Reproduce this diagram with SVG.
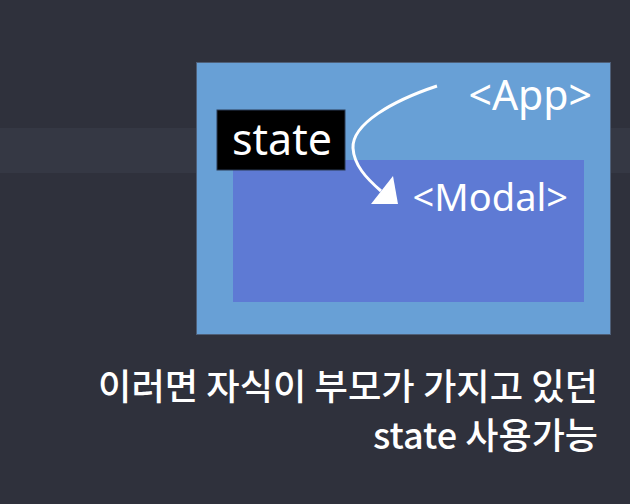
<svg xmlns="http://www.w3.org/2000/svg" width="630" height="504" viewBox="0 0 630 504">
<style>
.lbl{font-family:"Noto Sans","Noto Sans CJK KR",sans-serif;fill:#ffffff}
.cap{font-family:"Noto Sans CJK KR","Noto Sans",sans-serif;fill:#ffffff;font-size:36px;font-weight:500}
</style>
<rect width="630" height="504" fill="#2f313c"/>
<rect x="0" y="128" width="630" height="45" fill="#353844"/>
<g id="app">
<rect x="196.5" y="62.5" width="414" height="272" fill="#68a0d6" stroke="#4e5f78" stroke-width="1"/>
<text class="lbl" x="592" y="110" font-size="41" text-anchor="end">&lt;App&gt;</text>
</g>
<g id="modal">
<rect x="233" y="160" width="351" height="142" fill="#5e7ad4"/>
<text class="lbl" x="568" y="211" font-size="38" text-anchor="end">&lt;Modal&gt;</text>
</g>
<g id="state">
<rect x="217" y="110" width="128" height="60" fill="#000000" stroke="#2a3a55" stroke-width="1"/>
<text class="lbl" x="282" y="155" font-size="43" text-anchor="middle">state</text>
</g>
<g id="connectors">
<path d="M437,86 C392,101 352,124 353,148 C354,165 366,178 381,191" fill="none" stroke="#ffffff" stroke-width="3"/>
<path d="M398,204 L393,176 L371,204 Z" fill="#ffffff"/>
</g>
<g id="caption">
<text class="cap" x="598" y="400" text-anchor="end" textLength="500" lengthAdjust="spacingAndGlyphs">이러면 자식이 부모가 가지고 있던</text>
<text class="cap" x="598" y="449" text-anchor="end" textLength="225" lengthAdjust="spacingAndGlyphs">state 사용가능</text>
</g>
</svg>
